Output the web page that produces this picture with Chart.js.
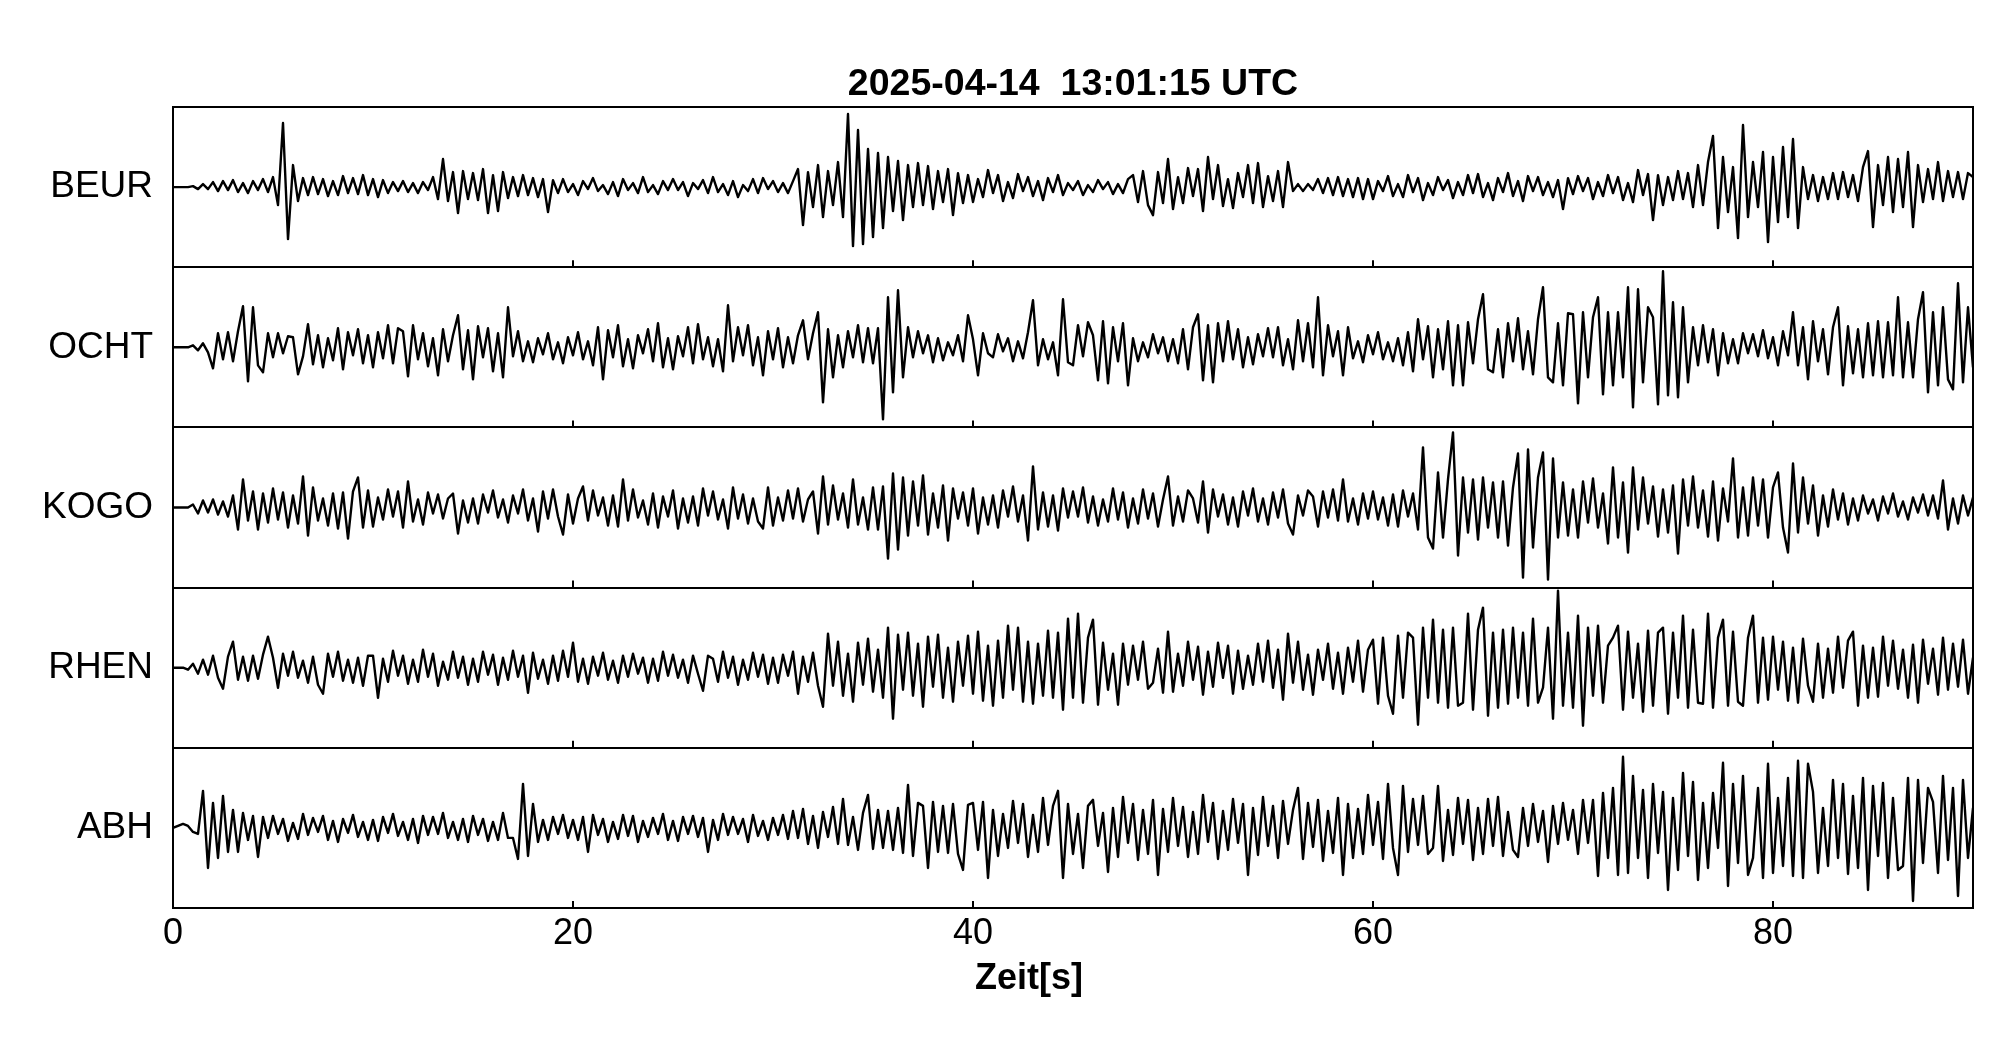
<!DOCTYPE html>
<html>
<head>
<meta charset="utf-8">
<style>
  html, body { margin: 0; padding: 0; background: #fff; }
  canvas { display: block; }
</style>
<script src="https://cdn.jsdelivr.net/npm/chart.js@4.4.1/dist/chart.umd.min.js"></script>
</head>
<body>
<canvas id="chart" width="2005" height="1041"></canvas>
<script>
const titleText = '2025-04-14  13:01:15 UTC';
const xAxisLabel = 'Zeit[s]';
const stations = ['BEUR', 'OCHT', 'KOGO', 'RHEN', 'ABH'];
const timeTicks = [0, 20, 40, 60, 80];
const sampleStep = 0.25; // seconds between samples, trace starts at 0 s

// amplitudes, one panel spans -80..80
const beur = [
  0,0,0,0, 1,-2,3,-2, 5,-4,6,-3, 7,-5,4,-6, 6,-3,8,-5,
  10,-18,64,-52, 22,-14,9,-8, 10,-7,8,-9, 6,-8,11,-6, 9,-7,12,-8,
  8,-10,7,-6, 5,-4,6,-5, 4,-6,5,-3, 10,-12,28,-14, 15,-26,16,-12,
  14,-13,18,-26, 12,-24,15,-11, 10,-9,12,-8, 9,-10,8,-25, 7,-6,8,-5,
  3,-8,6,-2, 9,-4,2,-7, 5,-9,8,-3, 4,-6,10,-5, 2,-7,6,-3,
  8,-3,5,-9, 4,-2,7,-6, 10,-5,3,-8, 6,-10,2,-4, 8,-6,9,-2,
  6,-5,4,-6, 6,18,-38,15, -20,22,-30,16, -18,25,-30,73, -59,57,-57,38,
  -50,34,-41,30, -24,26,-33,22, -20,24,-18,21, -22,16,-15,18, -28,14,-16,12,
  -15,8,-10,17, -6,12,-14,5, -11,13,-4,10, -9,6,-13,9, -5,12,-8,4,
  -3,6,-8,2, -5,7,-2,5, -7,3,-6,8, 12,-15,16,-18, -28,15,-16,28,
  -22,10,-16,19, -9,18,-24,30, -12,22,-19,8, -21,14,-10,22, -16,24,-20,11,
  -14,16,-20,25, -4,3,-4,3, -3,8,-6,9, -8,10,-9,8, -10,9,-12,8,
  -12,6,-4,11, -9,3,-10,12, -5,9,-13,4, -8,10,-3,7, -11,5,-8,12,
  -6,13,-10,4, -13,9,-5,14, -9,6,-14,11, -4,10,-8,5, -10,7,-22,9,
  -7,11,-4,9, -12,5,-9,12, -6,10,-13,4, -15,17,-8,13, -33,12,-18,10,
  -13,16,-12,14, -20,22,-18,25, 51,-41,30,-25, 20,-51,62,-30, 25,-20,35,-55,
  30,-35,40,-30, 48,-41,20,-12, 12,-14,10,-12, 14,-12,15,-10, 12,-14,20,36,
  -40,22,-18,30, -25,28,-20,35, -40,22,-15,18, -12,25,-14,16, -10,15,-12,14,
  10
];
const ocht = [
  0,0,0,0, 2,-3,4,-5, -21,14,-12,15, -14,16,41,-34, 40,-18,-25,14,
  -10,14,-6,11, 10,-27,-9,23, -17,12,-20,9, -13,19,-22,15, -8,18,-16,12,
  -20,15,-11,22, -16,19,16,-29, 22,-12,14,-19, 9,-28,18,-14, 12,32,-22,17,
  -32,21,-10,19, -24,14,-30,40, -9,16,-14,6, -15,9,-7,14, -12,5,-16,10,
  -8,15,-12,6, -18,20,-32,17, -10,22,-19,8, -21,12,-6,18, -14,24,-20,9,
  -22,11,-9,20, -16,23,-12,10, -19,8,-24,42, -14,20,-8,22, -18,10,-28,16,
  -12,19,-20,10, -16,12,27,-12, 14,35,-55,18, -30,12,-20,16, -10,22,-15,19,
  -16,19,-72,50, -45,57,-30,20, -10,16,-6,12, -15,9,-13,5, -8,12,-14,32,
  8,-28,14,-6, -10,13,-4,9, -14,6,-11,15, 47,-18,8,-12, 5,-28,48,-15,
  -18,22,-9,25, 12,-33,26,-36, 20,-14,24,-38, 9,-14,5,-10, 13,-6,10,-14,
  8,-16,18,-22, 20,33,-33,22, -35,24,-14,26, -12,18,-20,10, -17,13,-9,19,
  -10,20,-18,8, -22,27,-14,24, -20,50,-28,22, -9,16,-28,20, -11,6,-15,12,
  -7,15,-12,5, -14,9,-18,15, -24,28,-12,21, -30,18,-22,26, -38,22,-38,25,
  -16,28,53,-22, -25,18,-30,24, -14,29,-22,16, -27,28,60,-30, -35,24,-38,34,
  33,-56,35,-30, 30,50,-47,35, -38,35,-30,60, -60,58,-35,40, 30,-57,76,-48,
  45,-50,40,-35, 20,-18,22,-15, 18,-28,14,-16, 8,-16,14,-6, 13,-9,17,-11,
  10,-18,16,-8, 35,-18,20,-32, 26,-14,18,-27, 20,40,-38,21, -26,18,-30,24,
  -28,26,-30,25, -28,50,-30,25, -30,28,55,-45, 35,-38,40,-32, -42,64,-35,40,
  -20
];
const kogo = [
  0,0,0,0, 3,-6,7,-5, 8,-7,6,-9, 12,-22,28,-13, 16,-22,14,-15,
  19,-12,15,-20, 12,-16,31,-28, 20,-13,9,-18, 14,-21,15,-31, 16,30,-20,17,
  -19,10,-12,18, -9,16,-20,26, -14,8,-17,15, -6,13,-11,9, 14,-26,7,-15,
  9,-16,13,-5, 17,-10,8,-15, 12,-6,18,-13, 9,-24,16,-11, 18,-9,-27,13,
  -16,9,21,-13, 17,-8,10,-18, 12,-19,28,-13, 18,-10,7,-17, 14,-20,11,-9,
  17,-21,9,-15, 11,-18,19,-8, 16,-12,8,-21, 20,-11,13,-16, 9,-14,-21,20,
  -18,10,-13,17, -11,19,-14,8, 16,-26,31,-17, 22,-12,14,-20, 28,-17,10,-22,
  20,-22,21,-51, 34,-42,30,-28, 26,-18,32,-27, 14,-20,22,-33, 19,-11,15,-18,
  19,-26,10,-17, 12,-20,17,-9, 21,-14,12,-33, 41,-22,15,-19, 12,-23,19,-10,
  16,-9,20,-15, 11,-18,8,-14, 19,-12,15,-20, 9,-16,18,-11, 14,-19,8,31,
  -18,11,-14,17, 9,-15,26,-25, 18,-9,13,-17, 10,-19,16,-8, 19,-14,9,-17,
  15,-10,18,-16, -27,12,-8,17, 11,-19,16,-10, 18,-13,28,-14, 9,-17,14,-11,
  16,-12,10,-18, 13,-19,17,-9, 14,-22,60,-30, -41,35,-30,28, 75,-48,30,-25,
  28,-32,30,-20, 25,-30,26,-38, 20,54,-70,58, -40,30,55,-72, 49,-30,25,-28,
  18,-30,26,-15, 29,-20,14,-36, 40,-30,25,-45, 40,-22,30,-16, 21,-29,18,-25,
  22,-46,28,-18, 31,-20,17,-29, 26,-33,19,-14, 49,-30,20,-28, 30,-18,28,-30,
  20,35,-20,-45, 44,-25,30,-16, 22,-28,12,-19, 18,-12,14,-17, 9,-13,12,-6,
  8,-13,11,-6, 14,-9,6,-12, 10,-5,13,-8, 12,-11,27,-22, 9,-16,12,-8,
  10
];
const rhen = [
  0,0,0,-2, 4,-6,8,-7, 12,-10,-21,11, 26,-12,11,-13, 12,-11,13,31,
  10,-20,14,-8, 16,-10,7,-15, 11,-17,-26,14, -9,16,-13,8, -15,10,-18,12,
  12,-30,9,-14, 17,-8,12,-16, 8,-14,18,-9, 14,-18,6,-12, 16,-10,11,-17,
  9,-14,16,-7, 13,-17,10,-12, 17,-9,12,-25, 15,-11,8,-16, 12,-13,17,-9,
  25,-14,9,-16, 11,-8,15,-12, 7,-15,12,-9, 14,-6,10,-15, 9,-13,16,-8,
  13,-10,8,-15, 12,-6,-23,12, 9,-14,16,-10, 11,-17,8,-12, 15,-9,13,-16,
  10,-15,13,-8, 16,-26,11,-14, 15,-18,-39,34, -18,26,-28,14, -34,25,-17,29,
  -24,18,-30,40, -51,33,-22,35, -28,24,-39,31, -19,33,-30,20, -34,26,-18,32,
  -26,36,-33,22, -38,27,-30,42, -22,40,-34,26, -36,24,-28,37, -30,35,-42,49,
  -30,54,-35,30, 48,-37,25,-22, 14,-37,24,-17, 22,-12,26,-21, -15,19,-25,36,
  -24,14,-18,26, -12,21,-27,16, -19,25,-10,22, -26,17,-21,12, -17,24,-14,27,
  -20,18,-32,34, -15,26,-22,13, -27,18,-12,24, -21,15,-26,20, -14,27,-24,18,
  28,-36,30,-28, -46,32,-30,35, 30,-57,40,-30, 48,-35,38,-40, 40,-38,-35,54,
  -42,38,60,-48, 35,-40,38,-36, 40,-30,35,-38, 49,-35,-20,40, -51,77,-38,35,
  -40,52,-58,40, -28,42,-35,22, 30,42,-42,36, -30,24,-44,37, -38,35,40,-46,
  35,-30,52,-40, 38,-35,-36,54, -40,30,48,-38, 36,-34,-38,30, 52,-35,30,-32,
  31,-22,26,-33, 20,-35,29,-18, -34,24,-30,19, -25,31,-20,27, 36,-38,22,-30,
  20,-29,31,-18, 27,-21,18,-30, 23,-35,28,-16, 19,-27,30,-22, 24,-19,28,-26,
  10
];
const abh = [
  0,2,4,2, -4,-6,37,-40, 25,-30,32,-24, 18,-24,15,-12, 12,-29,11,-10,
  12,-6,9,-13, 5,-11,14,-7, 10,-4,12,-12, 7,-14,9,-5, 13,-9,6,-12,
  8,-13,11,-5, 14,-8,6,-12, 9,-15,12,-7, 11,-6,15,-10, 6,-12,9,-14,
  12,-7,9,-13, 6,-12,15,-10, -10,-31,44,-28, 24,-14,8,-12, 11,-6,13,-10,
  8,-12,11,-24, 13,-7,9,-14, 6,-11,13,-8, 12,-14,7,-9, 10,-6,14,-12,
  7,-13,11,-6, 12,-9,10,-24, 8,-12,14,-7, 11,-6,9,-14, 13,-8,7,-12,
  10,-7,13,-11, 17,-10,19,-16, 12,-20,16,-9, 21,-16,29,-17, 11,-22,15,33,
  -21,18,-20,17, -22,20,-25,43, -28,25,22,-40, 26,-24,22,-25, 24,-26,-42,23,
  25,-22,26,-50, 18,-28,14,-20, 27,-15,24,-29, 13,-24,30,-17, 22,37,-50,24,
  -26,14,-40,22, 28,-18,15,-44, 20,-29,31,-15, 24,-32,18,-26, 28,-47,19,-24,
  30,-18,21,-29, 16,-26,33,-14, 25,-31,17,-22, 29,-15,24,-47, 20,-27,31,-18,
  22,-30,27,-16, 18,40,-31,25, -19,28,-33,17, -25,30,-47,24, -30,19,-26,33,
  -17,26,-31,44, -20,-47,42,-24, 29,-17,32,-26, -20,42,-33,18, -27,30,-16,28,
  -32,20,-26,29, -18,31,-28,16, -22,-29,20,-18, 24,-14,17,-34, 22,-16,25,-12,
  18,-26,28,-15, 28,-48,35,-30, 40,-47,71,-45, 52,-30,38,-50, 44,-25,36,-62,
  30,-42,55,-28, 46,-52,25,-40, 35,-20,65,-58, 44,-35,52,-47, -30,40,-50,64,
  -45,30,-38,50, -48,67,-50,64, 36,-45,20,-38, 48,-30,44,-46, 32,-40,50,-62,
  42,-28,45,-50, 30,-42,-38,50, -73,48,-35,40, 26,-45,52,-32, 40,-68,48,-30,
  20
];

const traces = [beur, ocht, kogo, rhen, abh];

const panelHeight = 160;
const yMax = panelHeight * stations.length;
const centers = stations.map((s, i) => yMax - panelHeight * (i + 0.5));
const bounds = stations.map((s, i) => i * panelHeight).concat([yMax]);
const xLabelAt = 42.8;

const font = "'Liberation Sans', Arial, Helvetica, sans-serif";
Chart.defaults.font.family = font;
Chart.defaults.color = '#000';

// small inside tick marks at the bottom of every panel
const panelTicks = {
  id: 'panelTicks',
  afterDraw(chart) {
    const {ctx} = chart;
    const xs = chart.scales.x;
    const ys = chart.scales.yg;
    ctx.save();
    ctx.strokeStyle = '#000';
    ctx.lineWidth = 2;
    bounds.slice(0, -1).forEach((b) => {
      const py = ys.getPixelForValue(b);
      timeTicks.slice(1).forEach((t) => {
        const px = Math.round(xs.getPixelForValue(t));
        ctx.beginPath();
        ctx.moveTo(px, py);
        ctx.lineTo(px, py - 7);
        ctx.stroke();
      });
    });
    ctx.restore();
  },
};

// axis caption, sits a bit left of the middle like in the original plot
const xCaption = {
  id: 'xCaption',
  afterDraw(chart) {
    const {ctx} = chart;
    ctx.save();
    ctx.font = `bold 36px ${font}`;
    ctx.fillStyle = '#000';
    ctx.textAlign = 'center';
    ctx.textBaseline = 'middle';
    ctx.fillText(xAxisLabel, chart.scales.x.getPixelForValue(xLabelAt), 979);
    ctx.restore();
  },
};

new Chart(document.getElementById('chart'), {
  type: 'line',
  data: {
    datasets: traces.map((vals, i) => ({
      label: stations[i],
      data: vals.map((v, k) => ({x: k * sampleStep, y: centers[i] + v})),
      borderColor: '#000',
      borderWidth: 2.4,
      borderJoinStyle: 'round',
      pointRadius: 0,
      tension: 0,
      yAxisID: 'y',
    })),
  },
  options: {
    responsive: false,
    animation: false,
    devicePixelRatio: 1,
    layout: {padding: 0},
    plugins: {
      legend: {display: false},
      tooltip: {enabled: false},
      title: {
        display: true,
        text: titleText,
        fullSize: false,
        color: '#000',
        font: {size: 37.5, weight: 'bold'},
        padding: {top: 62, bottom: 0},
      },
    },
    scales: {
      x: {
        type: 'linear',
        position: 'bottom',
        min: 0,
        max: 90,
        afterBuildTicks: (s) => { s.ticks = timeTicks.map((v) => ({value: v})); },
        afterFit: (s) => { s.height = 133; },
        grid: {display: false, drawTicks: false},
        border: {display: true, color: '#000', width: 2},
        ticks: {font: {size: 36}, color: '#000', padding: 4, maxRotation: 0, autoSkip: false},
      },
      y: {
        type: 'linear',
        position: 'left',
        min: 0,
        max: yMax,
        afterBuildTicks: (s) => { s.ticks = [...centers].reverse().map((v) => ({value: v})); },
        afterFit: (s) => { s.width = 173; },
        grid: {display: false, drawTicks: false},
        border: {display: true, color: '#000', width: 2},
        ticks: {
          font: {size: 37},
          color: '#000',
          padding: 20,
          callback: (v) => stations[centers.indexOf(v)],
        },
      },
      yg: {
        type: 'linear',
        position: 'right',
        min: 0,
        max: yMax,
        afterBuildTicks: (s) => { s.ticks = bounds.map((v) => ({value: v})); },
        afterFit: (s) => { s.width = 32; },
        grid: {color: '#000', lineWidth: 2, drawTicks: false},
        border: {display: true, color: '#000', width: 2},
        ticks: {display: false},
      },
    },
  },
  plugins: [panelTicks, xCaption],
});
</script>
</body>
</html>
